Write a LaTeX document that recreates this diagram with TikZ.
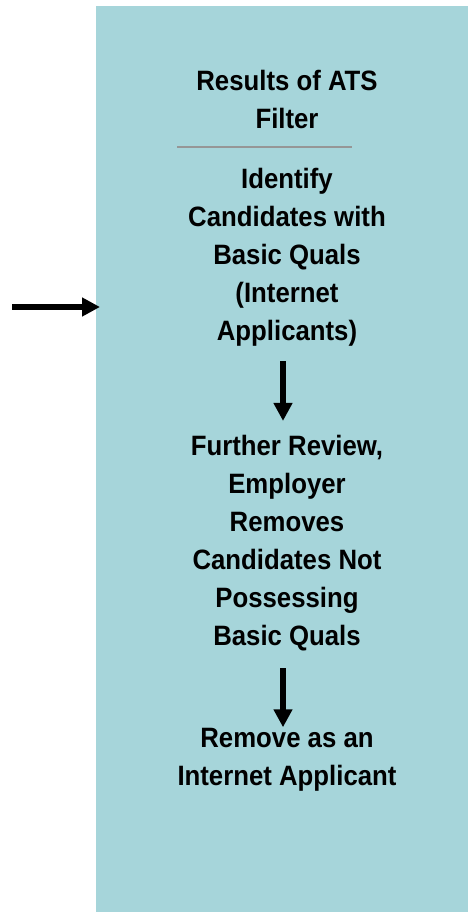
\documentclass[tikz,border=0pt]{standalone}
\usepackage{fontspec}
\setmainfont{Liberation Sans}[FakeStretch=0.92]
\usetikzlibrary{arrows.meta, positioning}
\definecolor{panelteal}{RGB}{166,213,218}
\definecolor{rulegray}{RGB}{150,150,150}

\begin{document}
\begin{tikzpicture}[
    x=1pt, y=-1pt,
    stepline/.style={align=center, inner sep=0pt, text=black,
                     font=\fontsize{28}{38}\selectfont\bfseries},
    flow/.style={-{Triangle[length=18pt, width=18pt]}, line width=6pt, draw=black},
]
\useasboundingbox (0,0) rectangle (468,912);

\node[fill=panelteal, inner sep=0pt, minimum width=372pt, minimum height=906pt,
      anchor=north west] (panel) at (96,6) {};

\node[stepline] (results) at (287,99) {Results of ATS\\Filter};
\node[stepline] (identify) at (287,257) {Identify\\Candidates with\\Basic Quals\\(Internet\\Applicants)};
\node[stepline] (review) at (287,543) {Further Review,\\Employer\\Removes\\Candidates Not\\Possessing\\Basic Quals};
\node[stepline] (remove) at (287,760) {Remove as an\\Internet Applicant};

\coordinate (ruleL) at (177,147);
\coordinate (ruleR) at (352,147);
\draw[rulegray, line width=1.5pt] (ruleL) -- (ruleR);

\coordinate (feed) at (12,307);
\draw[flow, shorten >=-4pt] (feed) -- (feed -| panel.west);

\draw[flow, shorten >=14pt] ([xshift=-4pt]identify.south) ++(0,15) -- ([xshift=-4pt]review.north);
\draw[flow, shorten >=1pt] ([xshift=-4pt]review.south) ++(0,17) -- ([xshift=-4pt]remove.north);

\end{tikzpicture}
\end{document}
